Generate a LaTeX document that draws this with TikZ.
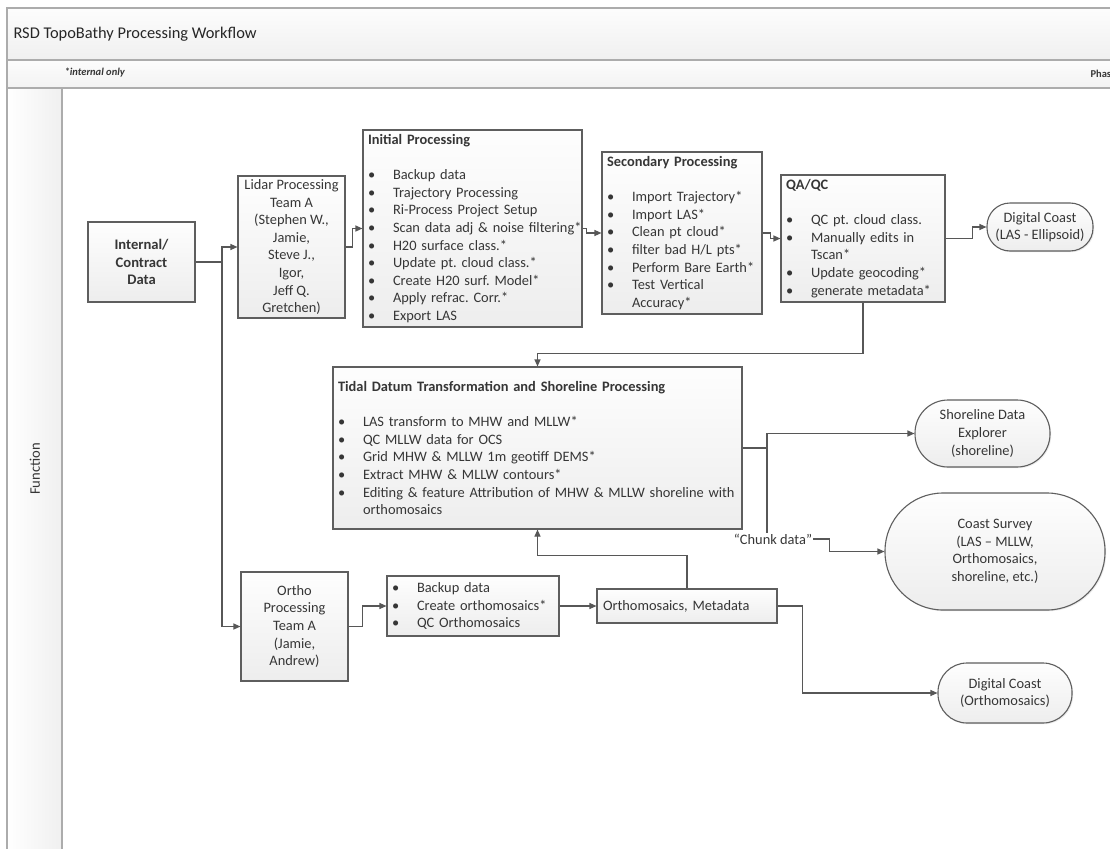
\documentclass[tikz,border=0pt]{standalone}
\usepackage{fontspec}
\setmainfont{Carlito}
\usepackage{xcolor}
\usetikzlibrary{positioning,arrows.meta,shadows}
\definecolor{ink}{HTML}{363636}
\definecolor{edgegray}{HTML}{5E5E5E}
\definecolor{linegray}{HTML}{575757}
\newcommand{\bl}[1]{\mbox{\makebox[25pt][l]{\textbullet}#1}}
\newcommand{\cl}[1]{\mbox{\hspace*{25pt}#1}}
\frenchspacing

\begin{document}
\begin{tikzpicture}[x=1pt, y=-1pt, font=\fontsize{14.4}{17.6}\selectfont, text=ink,
  box/.style={rectangle, draw=edgegray, line width=1.1pt, top color=gray!1, bottom color=gray!14, drop shadow={shadow xshift=1.2pt, shadow yshift=-1.2pt, opacity=0.15}, inner xsep=5pt, inner ysep=0pt},
  term/.style={box, align=center, inner xsep=0pt},
  wire/.style={draw=linegray, line width=1.1pt},
  arr/.style={wire, -{Triangle[length=7pt, width=6pt]}},
  frame/.style={draw=gray!65, line width=1.6pt}]
\useasboundingbox (0,0) rectangle (1110,848);
\fill[white] (0,0) rectangle (1110,848);
% frame and lanes
\draw[frame, top color=gray!2, bottom color=gray!12] (7,8) rectangle (1125,60);
\draw[frame, top color=gray!2, bottom color=gray!10] (7,60) rectangle (1125,88);
\draw[frame] (7,88) rectangle (1125,870);
\draw[frame, left color=white, right color=gray!12] (7,88) rectangle (62,870);
\node[anchor=west, font=\fontsize{16.4}{19}\selectfont, text=black!85] (title) at (10,34) {RSD TopoBathy Processing Workflow};
\node[anchor=west, font=\fontsize{10.5}{12}\selectfont\bfseries\itshape] (note) at (61,73) {*internal only};
\node[anchor=west, font=\fontsize{10.5}{12}\selectfont\bfseries] (phase) at (1087,74) {Phas};
\node[rotate=90, font=\fontsize{14.6}{17.6}\selectfont] (fn) at (35,469) {Function};
% lidar branch
\node[box, align=center, font=\fontsize{14.6}{17.2}\selectfont\bfseries, minimum width=107pt, minimum height=80pt] (internal) at (141.5,262) {Internal/\\Contract\\Data};
\node[box, align=center, minimum width=107pt, minimum height=142pt] (lidar) at (291.5,247) {Lidar Processing\\Team A\\(Stephen W.,\\Jamie,\\Steve J.,\\Igor,\\Jeff Q.\\Gretchen)};
\node[box, align=left, text width=209pt, minimum height=197pt] (init) at (472.5,228.5) {\textbf{Initial Processing}\\[17.6pt]
  \bl{Backup data}\\ \bl{Trajectory Processing}\\ \bl{Ri-Process Project Setup}\\ \bl{Scan data adj \& noise filtering*}\\
  \bl{H20 surface class.*}\\ \bl{Update pt. cloud class.*}\\ \bl{Create H20 surf. Model*}\\ \bl{Apply refrac. Corr.*}\\ \bl{Export LAS}};
\node[box, align=left, text width=150pt, minimum height=162pt] (second) at (682,233) {\textbf{Secondary Processing}\\[17.6pt]
  \bl{Import Trajectory*}\\ \bl{Import LAS*}\\ \bl{Clean pt cloud*}\\ \bl{filter bad H/L pts*}\\ \bl{Perform Bare Earth*}\\ \bl{Test Vertical}\\ \cl{Accuracy*}};
\node[box, align=left, text width=154pt, minimum height=127pt] (qaqc) at (863,238.5) {\textbf{QA/QC}\\[17.6pt]
  \bl{QC pt. cloud class.}\\ \bl{Manually edits in}\\ \cl{Tscan*}\\ \bl{Update geocoding*}\\ \bl{generate metadata*}};
\node[term, minimum width=106pt, minimum height=48pt, rounded corners=23pt] (dcLAS) at (1040,227) {Digital Coast\\(LAS - Ellipsoid)};
% tidal datum
\node[box, align=left, text width=399pt, minimum height=162pt] (tidal) at (537.5,448) {\textbf{Tidal Datum Transformation and Shoreline Processing}\\[17.6pt]
  \bl{LAS transform to MHW and MLLW*}\\ \bl{QC MLLW data for OCS}\\ \bl{Grid MHW \& MLLW 1m geotiff DEMS*}\\ \bl{Extract MHW \& MLLW contours*}\\
  \bl{Editing \& feature Attribution of MHW \& MLLW shoreline with}\\ \cl{orthomosaics}};
\node[term, minimum width=135pt, minimum height=67pt, rounded corners=33pt] (sde) at (982.5,433.5) {Shoreline Data\\Explorer\\(shoreline)};
\node[term, minimum width=220pt, minimum height=117pt, rounded corners=58pt] (survey) at (995,551.5) {Coast Survey\\(LAS – MLLW,\\Orthomosaics,\\shoreline, etc.)};
\node[inner sep=1pt] (chunk) at (773,539) {“Chunk data”};
% ortho branch
\node[box, align=center, minimum width=107pt, minimum height=109pt] (ortho) at (294.5,626.5) {Ortho\\Processing\\Team A\\(Jamie,\\Andrew)};
\node[box, align=left, text width=162pt, minimum height=60pt] (orthosteps) at (473,606) {\bl{Backup data}\\ \bl{Create orthomosaics*}\\ \bl{QC Orthomosaics}};
\node[box, align=left, inner xsep=6pt, text width=168pt, minimum height=34pt] (mosaic) at (687,606) {Orthomosaics, Metadata};
\node[term, minimum width=134pt, minimum height=60pt, rounded corners=29pt] (dcOrtho) at (1005,693) {Digital Coast\\(Orthomosaics)};
% connectors
\coordinate (fork) at (222,262);
\coordinate (split) at (767,448);
\draw[wire] (internal.east) -- (fork);
\draw[arr] (fork) |- (lidar.west);
\draw[arr] (fork) |- (ortho.west);
\draw[arr] (lidar.east) -- ++(7,0) |- (init.west);
\draw[arr] (init.east) -- ++(4,0) |- (second.west);
\draw[arr] (second.east) -- ++(8,0) |- (qaqc.west);
\draw[arr] (qaqc.east) -- ++(27,0) |- (dcLAS.west);
\draw[arr] (qaqc.south) -- ++(0,51) -| (tidal.north);
\draw[wire] (tidal.east) -- (split);
\draw[arr] (split) |- (sde.west);
\draw[wire] (split) -- (split |- chunk.north);
\draw[arr] (chunk.east) -- ++(16,0) |- (survey.west);
\draw[arr] (ortho.east) -- ++(14,0) |- (orthosteps.west);
\draw[arr] (orthosteps.east) -- (mosaic.west);
\draw[arr] (mosaic.north) -- ++(0,-33) -| (tidal.south);
\draw[arr] (mosaic.east) -- ++(25,0) |- (dcOrtho.west);
\end{tikzpicture}
\end{document}
